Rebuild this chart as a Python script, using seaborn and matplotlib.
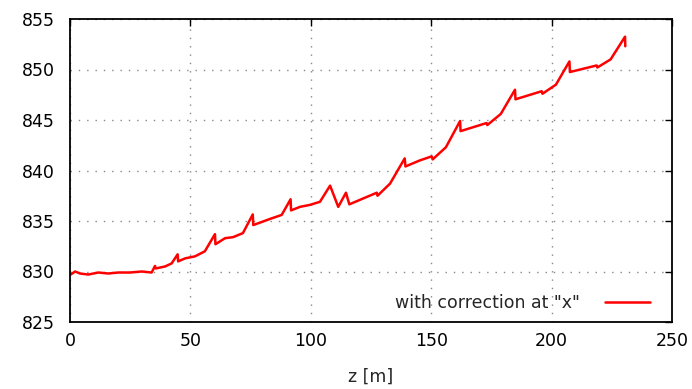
import matplotlib
matplotlib.use("Agg")
import matplotlib.pyplot as plt
import seaborn as sns
import pandas as pd

z_m = [0, 2.1, 4.2, 7.6, 11.8, 15.9, 20, 24.9, 29.8, 33.9,
       35.3, 35.6, 39.5, 42.2, 44.7, 44.9, 47.8, 51.9, 56, 60.2,
       60.4, 64.4, 67.7, 71.8, 75.9, 76.1, 79.6, 83, 87.9, 91.6,
       91.8, 95.5, 99.7, 103.8, 108, 111.4, 114.6, 116, 127.4, 127.7,
       132.9, 139, 139.3, 145.3, 150.2, 150.6, 156.1, 162, 162.2, 173,
       173.3, 178.9, 184.8, 185, 195.9, 196.2, 201.8, 207.4, 207.6, 218.7,
       219, 224.5, 230.5, 230.6]
values = [829.65, 830.0, 829.8, 829.7, 829.9, 829.8, 829.9, 829.9, 830.0, 829.9,
          830.55, 830.3, 830.5, 830.8, 831.7, 831.0, 831.3, 831.5, 832.0, 833.7,
          832.7, 833.3, 833.4, 833.8, 835.65, 834.6, 834.9, 835.2, 835.6, 837.15,
          836.05, 836.4, 836.6, 836.9, 838.5, 836.4, 837.8, 836.65, 837.8, 837.5,
          838.7, 841.2, 840.4, 841.0, 841.4, 841.1, 842.3, 844.9, 843.9, 844.7,
          844.5, 845.6, 848.0, 847.05, 847.85, 847.6, 848.5, 850.8, 849.75, 850.4,
          850.2, 851.0, 853.25, 852.3]
series_label = 'with correction at "x"'
x_ticks = [0, 50, 100, 150, 200, 250]
y_ticks = [825, 830, 835, 840, 845, 850, 855]

sns.set_theme(style="white")
plt.rcParams['font.family'] = ['DejaVu Sans']

df = pd.DataFrame({"z": z_m, "v": values})

fig = plt.figure(figsize=(6.92, 3.89), dpi=100)
ax = fig.add_axes([70/692, 67/389, 602/692, 303/389])

sns.lineplot(data=df, x="z", y="v", sort=False, estimator=None, ax=ax,
             color="#ff0000", linewidth=1.8, label=series_label)

ax.set_xlim(0, 250)
ax.set_ylim(825, 855)
ax.set_xticks(x_ticks)
ax.set_yticks(y_ticks)
ax.tick_params(direction="in", length=5, width=1.0, top=True, right=True,
               labelsize=12.5, colors="black", pad=7)
ax.tick_params(axis="y", pad=11)
for s in ax.spines.values():
    s.set_color("black")
    s.set_linewidth(1.3)
ax.grid(True, color="#888888", linestyle=(0, (1, 5)), linewidth=1.0)
ax.set_xlabel("z [m]", fontsize=12.5, labelpad=13)
ax.set_ylabel("")

leg = ax.legend(loc="lower right", bbox_to_anchor=(0.9867, -0.013),
                frameon=False, fontsize=12.5, handlelength=2.6,
                handletextpad=1.43, markerfirst=False, borderaxespad=0.4)

fig.savefig("out.png", dpi=100)
